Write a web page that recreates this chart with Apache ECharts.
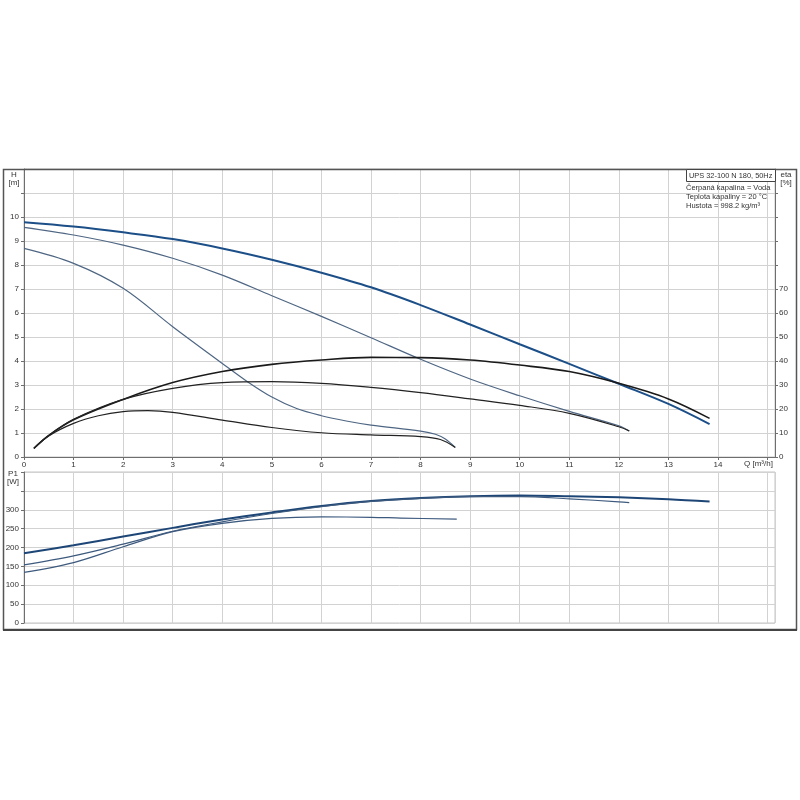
<!DOCTYPE html>
<html><head><meta charset="utf-8">
<script src="https://cdn.jsdelivr.net/npm/echarts@6/dist/echarts.min.js"></script>
<style>html,body{margin:0;padding:0;background:#fff}#c{width:800px;height:800px}</style>
</head><body><div id="c"></div>
<script>
// Q-H curves (speed 3, 2, 1)
const qA = [0,1,2,3,4,5,6,7,8,9,10,11,12,13,13.83];
const hA = [9.78,9.6,9.36,9.08,8.69,8.22,7.68,7.07,6.33,5.52,4.7,3.88,3.05,2.21,1.37];
const qB = [0,1,2,3,4,5,6,7,8,9,10,11,12,12.21];
const hB = [9.57,9.25,8.83,8.28,7.58,6.72,5.86,4.97,4.07,3.25,2.55,1.9,1.3,1.08];
const qC = [0,1,2,3,4,4.5,5,5.5,6,6.5,7,8,8.3,8.5,8.7];
const hC = [8.69,8.07,7.03,5.43,3.9,3.15,2.5,2.02,1.72,1.5,1.33,1.08,0.95,0.75,0.4];
// efficiency curves [%]
const qEA = [0.2,0.5,1,2,3,4,5,6,7,8,9,10,11,12,13,13.83];
const eA = [3.6,9,15.5,24,31,35.6,38.6,40.4,41.5,41.4,40.4,38.3,35.6,30.7,24.2,16.1];
const qEB = [0.2,0.5,1,2,3,4,5,6,7,8,9,10,11,12,12.21];
const eB = [3.6,9,15.7,24,28.6,31,31.4,30.7,29,26.8,24.2,21.5,18.2,12.6,10.8];
const qEC = [0.2,0.5,1,1.5,2,2.5,3,4,5,6,7,8,8.4,8.7];
const eC = [3.6,8.8,14,17.2,18.9,19.3,18.6,15.4,12.3,10.1,9.2,8.5,7.3,4];
// power curves P1 [W]
const qPA = [0,1,2,3,4,5,6,7,8,9,10,11,12,13,13.83];
const pA = [185,206,229,252,274,293,310,323,331,336,338,336,333,328,322];
const qPB = [0,1,2,3,4,5,6,7,8,9,10,11,12,12.21];
const pB = [154,178,209,243,268,290,308,322,330,335,335,329,321,319];
const qPC = [0,1,2,3,4,5,6,7,7.6,8.73];
const pC = [134,160,202,242,264,277,281,280,278,275];

const titleBox = 'UPS 32-100 N 180, 50Hz';
const infoLines = ['Čerpaná kapalina = Voda','Teplota kapaliny = 20 °C','Hustota = 998.2 kg/m³'];

const F = 'Liberation Sans';
const pairs = (xs, ys) => xs.map((x,i)=>[x, ys[i]]);
const grid = '#d2d2d2', axisC = '#6e6e6e', txt = '#333';

function line(name, xs, ys, xi, yi, color, w){
  return {name, type:'line', xAxisIndex:xi, yAxisIndex:yi, data:pairs(xs,ys), symbol:'none',
    smooth:0.35, lineStyle:{color, width:w}, silent:true, z:5};
}

const chart = echarts.init(document.getElementById('c'), null, {renderer:'canvas'});
chart.setOption({
  animation:false,
  backgroundColor:'#fff',
  grid:[
    {left:24, right:25, top:169, height:288, show:true, borderColor:'#c4c4c4', borderWidth:1},
    {left:24, right:25, top:472, height:151, show:true, borderColor:'#c4c4c4', borderWidth:1}
  ],
  xAxis:[
    {gridIndex:0, type:'value', min:0, max:15.15, interval:1,
      axisLine:{show:true, onZero:false, lineStyle:{color:axisC}},
      axisTick:{show:true, length:3, lineStyle:{color:axisC}},
      axisLabel:{fontFamily:F, fontSize:8, color:txt, margin:4, showMaxLabel:false, formatter:v=> v>14 ? '' : String(v)},
      splitLine:{show:true, lineStyle:{color:grid}}},
    {gridIndex:1, type:'value', min:0, max:15.15, interval:1,
      axisLine:{show:false}, axisTick:{show:false}, axisLabel:{show:false},
      splitLine:{show:true, lineStyle:{color:grid}}}
  ],
  yAxis:[
    {gridIndex:0, type:'value', min:0, max:12, interval:1,
      axisLine:{show:true, onZero:false, lineStyle:{color:axisC}},
      axisTick:{show:true, length:3, lineStyle:{color:axisC}},
      axisLabel:{fontFamily:F, fontSize:8, color:txt, margin:5, formatter:v=> v<=10 ? String(v) : ''},
      splitLine:{show:true, lineStyle:{color:grid}}},
    {gridIndex:0, type:'value', position:'right', min:0, max:120, interval:10,
      axisLine:{show:true, onZero:false, lineStyle:{color:axisC}},
      axisTick:{show:true, length:3, lineStyle:{color:axisC}},
      axisLabel:{fontFamily:F, fontSize:8, color:txt, margin:4, formatter:v=> v<=70 ? String(v) : ''},
      splitLine:{show:false}},
    {gridIndex:1, type:'value', min:0, max:400, interval:50,
      axisLine:{show:true, onZero:false, lineStyle:{color:axisC}},
      axisTick:{show:true, length:3, lineStyle:{color:axisC}},
      axisLabel:{fontFamily:F, fontSize:8, color:txt, margin:5, formatter:v=> v<=300 ? String(v) : ''},
      splitLine:{show:true, lineStyle:{color:grid}}}
  ],
  series:[
    line('H3', qA, hA, 0, 0, '#1c4f88', 2),
    line('H2', qB, hB, 0, 0, '#4e6683', 1.2),
    line('H1', qC, hC, 0, 0, '#4e6683', 1.2),
    line('eta3', qEA, eA, 0, 1, '#1a1a1a', 1.6),
    line('eta2', qEB, eB, 0, 1, '#222222', 1.2),
    line('eta1', qEC, eC, 0, 1, '#222222', 1.2),
    line('P3', qPA, pA, 1, 2, '#1d4676', 2),
    line('P2', qPB, pB, 1, 2, '#3d5a7e', 1.2),
    line('P1', qPC, pC, 1, 2, '#3d5a7e', 1.2)
  ],
  graphic:[
    {type:'rect', z:100, shape:{x:3.5, y:169.5, width:793, height:460}, style:{fill:null, stroke:'#555', lineWidth:1.5}},
    {type:'line', z:100, shape:{x1:3, y1:630, x2:797, y2:630}, style:{stroke:'#444', lineWidth:2}},
    {type:'text', z:100, x:14, y:175, style:{text:'H', font:'8px '+F, fill:txt, textAlign:'center', textVerticalAlign:'middle'}},
    {type:'text', z:100, x:14, y:183, style:{text:'[m]', font:'8px '+F, fill:txt, textAlign:'center', textVerticalAlign:'middle'}},
    {type:'text', z:100, x:786, y:175, style:{text:'eta', font:'8px '+F, fill:txt, textAlign:'center', textVerticalAlign:'middle'}},
    {type:'text', z:100, x:786, y:183, style:{text:'[%]', font:'8px '+F, fill:txt, textAlign:'center', textVerticalAlign:'middle'}},
    {type:'text', z:100, x:13, y:474, style:{text:'P1', font:'8px '+F, fill:txt, textAlign:'center', textVerticalAlign:'middle'}},
    {type:'text', z:100, x:13, y:482, style:{text:'[W]', font:'8px '+F, fill:txt, textAlign:'center', textVerticalAlign:'middle'}},
    {type:'text', z:100, x:744, y:464, style:{text:'Q [m³/h]', font:'8px '+F, fill:txt, textAlign:'left', textVerticalAlign:'middle'}},
    {type:'rect', z:100, shape:{x:686.5, y:169.5, width:89, height:12}, style:{fill:'#fff', stroke:'#444', lineWidth:1}},
    {type:'text', z:101, x:689, y:176, style:{text:titleBox, font:'7.4px '+F, fill:txt, textAlign:'left', textVerticalAlign:'middle'}},
    {type:'text', z:101, x:686, y:188, style:{text:infoLines[0], font:'7.5px '+F, fill:txt, textAlign:'left', textVerticalAlign:'middle'}},
    {type:'text', z:101, x:686, y:197, style:{text:infoLines[1], font:'7.5px '+F, fill:txt, textAlign:'left', textVerticalAlign:'middle'}},
    {type:'text', z:101, x:686, y:206, style:{text:infoLines[2], font:'7.5px '+F, fill:txt, textAlign:'left', textVerticalAlign:'middle'}}
  ]
});
</script></body></html>
